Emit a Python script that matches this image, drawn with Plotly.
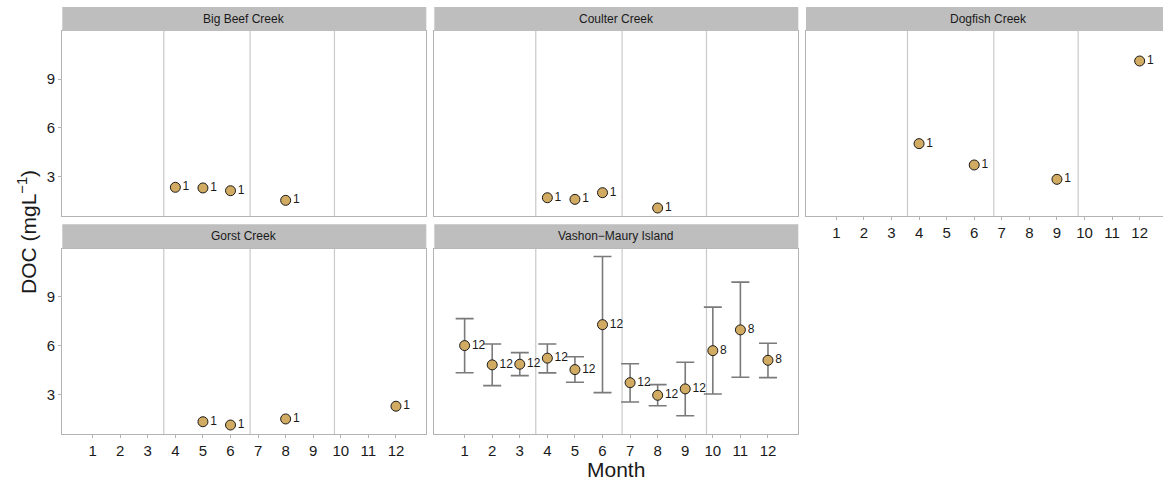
import plotly.graph_objects as go

# ---------------- data ----------------
sites = ["Big Beef Creek", "Coulter Creek", "Dogfish Creek", "Gorst Creek", "Vashon\u2212Maury Island"]

bigbeef_month = [4, 5, 6, 8]
bigbeef_doc = [2.36, 2.32, 2.15, 1.56]
bigbeef_n = [1, 1, 1, 1]

coulter_month = [4, 5, 6, 8]
coulter_doc = [1.72, 1.62, 2.03, 1.09]
coulter_n = [1, 1, 1, 1]

dogfish_month = [4, 6, 9, 12]
dogfish_doc = [5.04, 3.73, 2.85, 10.11]
dogfish_n = [1, 1, 1, 1]

gorst_month = [5, 6, 8, 12]
gorst_doc = [1.35, 1.15, 1.52, 2.30]
gorst_n = [1, 1, 1, 1]

vashon_month = [1, 2, 3, 4, 5, 6, 7, 8, 9, 10, 11, 12]
vashon_doc = [6.01, 4.83, 4.87, 5.24, 4.54, 7.29, 3.74, 2.97, 3.36, 5.70, 6.97, 5.11]
vashon_upper = [7.66, 6.11, 5.58, 6.11, 5.33, 11.46, 4.90, 3.62, 4.99, 8.36, 9.89, 6.15]
vashon_lower = [4.35, 3.56, 4.17, 4.34, 3.77, 3.13, 2.56, 2.33, 1.72, 3.05, 4.07, 4.05]
vashon_n = [12, 12, 12, 12, 12, 12, 12, 12, 12, 8, 8, 8]

season_breaks = [3.58, 6.71, 9.77]
month_ticks = list(range(1, 13))
doc_ticks = [3, 6, 9]

# ---------------- layout geometry ----------------
W, H = 1163, 487
FONT = "Liberation Sans, Arial, sans-serif"
FILL = "#D2AB63"
BORDER = "#b3b3b3"
VLINE = "#c9c9c9"
STRIP = "#bebebe"

col_px = [(62.3, 426.3), (434.3, 798.3), (806.0, 1170.0)]
row_px = [(31.0, 216.0), (248.5, 434.0)]   # plot area top/bottom
strip_px = [(7.0, 31.0), (224.3, 248.5)]
xr = (-0.1, 13.1)
yr = (0.6, 11.95)

panels = [
    # (row, col, months, doc, n, upper, lower, title)
    (0, 0, bigbeef_month, bigbeef_doc, bigbeef_n, None, None, sites[0]),
    (0, 1, coulter_month, coulter_doc, coulter_n, None, None, sites[1]),
    (0, 2, dogfish_month, dogfish_doc, dogfish_n, None, None, sites[2]),
    (1, 0, gorst_month, gorst_doc, gorst_n, None, None, sites[3]),
    (1, 1, vashon_month, vashon_doc, vashon_n, vashon_upper, vashon_lower, sites[4]),
]

fig = go.Figure()
layout = dict(
    width=W, height=H,
    margin=dict(l=0, r=0, t=0, b=0),
    paper_bgcolor="white", plot_bgcolor="white",
    showlegend=False,
    font=dict(family=FONT, color="#1a1a1a"),
)
shapes = []
annotations = []

for i, (r, c, mo, doc, n, up, lo, title) in enumerate(panels):
    k = i + 1
    xa = "xaxis" if k == 1 else f"xaxis{k}"
    ya = "yaxis" if k == 1 else f"yaxis{k}"
    xref = "x" if k == 1 else f"x{k}"
    yref = "y" if k == 1 else f"y{k}"

    x0p, x1p = col_px[c]
    visible_x1 = min(x1p, W)
    ppu = (x1p - x0p) / (xr[1] - xr[0])
    xmax = xr[0] + (visible_x1 - x0p) / ppu
    top, bot = row_px[r]

    show_xlabels = (r == 1) or (c == 2)
    show_ylabels = (c == 0)

    layout[xa] = dict(
        domain=[x0p / W, visible_x1 / W], range=[xr[0], xmax], anchor=yref,
        tickvals=month_ticks, ticktext=[str(m) for m in month_ticks],
        showticklabels=show_xlabels, ticks="outside" if show_xlabels else "",
        ticklen=3, tickcolor=BORDER,
        tickfont=dict(size=15, color="#1a1a1a", family=FONT),
        showgrid=False, zeroline=False, showline=True, linecolor=BORDER, linewidth=1.2,
        mirror=True, fixedrange=True,
    )
    layout[ya] = dict(
        domain=[1 - bot / H, 1 - top / H], range=list(yr), anchor=xref,
        tickvals=doc_ticks, showticklabels=show_ylabels,
        ticks="outside" if show_ylabels else "", ticklen=3, tickcolor=BORDER,
        tickfont=dict(size=15, color="#1a1a1a", family=FONT),
        showgrid=False, zeroline=False, showline=True, linecolor=BORDER, linewidth=1.2,
        mirror=(c != 2), fixedrange=True,
    )

    # season separator lines
    for b in season_breaks:
        shapes.append(dict(type="line", xref=xref, yref=f"{yref} domain",
                           x0=b, x1=b, y0=0, y1=1, layer="below",
                           line=dict(color=VLINE, width=1.2)))

    # strip
    s_top, s_bot = strip_px[r]
    shapes.append(dict(type="rect", xref="paper", yref="paper",
                       x0=x0p / W, x1=visible_x1 / W, y0=1 - s_bot / H, y1=1 - s_top / H,
                       fillcolor=STRIP, line=dict(width=0), layer="above"))
    annotations.append(dict(text=title, xref="paper", yref="paper",
                            x=(x0p + x1p) / 2 / W, y=1 - (s_top + s_bot) / 2 / H,
                            xanchor="center", yanchor="middle", showarrow=False,
                            font=dict(size=12, color="#1a1a1a", family=FONT)))

    err = None
    if up is not None:
        err = dict(type="data", symmetric=False,
                   array=[u - d for u, d in zip(up, doc)],
                   arrayminus=[d - l for d, l in zip(doc, lo)],
                   color="#7a7a7a", thickness=1.6, width=9)

    fig.add_trace(go.Scatter(
        x=mo, y=doc, xaxis=xref, yaxis=yref,
        mode="markers+text", text=[str(v) for v in n], textposition="middle right",
        textfont=dict(size=12, color="#1a1a1a", family=FONT),
        marker=dict(size=10, color=FILL, line=dict(color="#1a1a1a", width=1)),
        error_y=err, cliponaxis=False, hoverinfo="skip",
    ))

# axis titles
annotations.append(dict(text="Month", xref="paper", yref="paper",
                        x=616 / W, y=1 - 469 / H, xanchor="center", yanchor="middle",
                        showarrow=False, font=dict(size=21, color="#1a1a1a", family=FONT)))
annotations.append(dict(text="DOC (mgL<sup>\u22121</sup>)", xref="paper", yref="paper",
                        x=27 / W, y=1 - 232 / H, xanchor="center", yanchor="middle",
                        textangle=-90, showarrow=False,
                        font=dict(size=21, color="#1a1a1a", family=FONT)))

layout["shapes"] = shapes
layout["annotations"] = annotations
fig.update_layout(**layout)
fig.write_html("out.html")
